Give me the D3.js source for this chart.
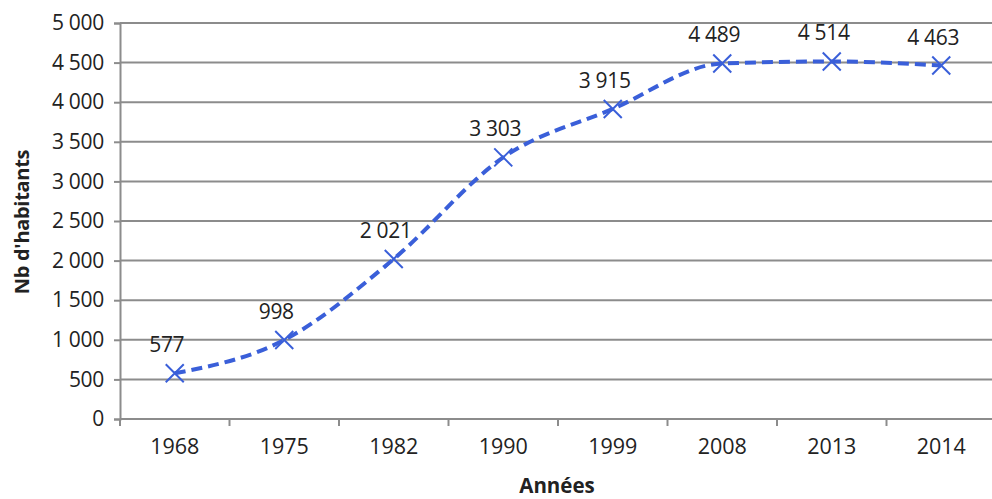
<!DOCTYPE html>
<html><head><meta charset="utf-8">
<script src="https://cdn.jsdelivr.net/npm/d3@7"></script>
<style>body{margin:0;background:#fff}svg{display:block}</style>
</head><body>
<svg id="c" width="992" height="499"></svg>
<script>
const years = ["1968","1975","1982","1990","1999","2008","2013","2014"];
const habitants = [577, 998, 2021, 3303, 3915, 4489, 4514, 4463];
const yTicks = [0,500,1000,1500,2000,2500,3000,3500,4000,4500,5000];
const xTitle = "Années";
const yTitle = "Nb d'habitants";

const svg = d3.select("#c");
const W = 992, H = 499;
const m = {left:120, right:-4, top:23, bottom:80};
const x = d3.scaleBand().domain(years).range([m.left, W - m.right]);
const y = d3.scaleLinear().domain([0,5000]).range([H - m.bottom, m.top]);
const font = "'Open Sans', sans-serif";
const fmt = v => d3.format(",")(v).replace(/,/g, " ");
const grid = "#8c8c8c";
const blue = "#3a5fd9";
const fs = 21;

// gridlines
svg.append("g").selectAll("line").data(yTicks.filter(d=>d>0)).join("line")
  .attr("x1", m.left).attr("x2", W).attr("y1", d=>y(d)).attr("y2", d=>y(d))
  .attr("stroke", grid).attr("stroke-width", 2);

// y axis
const ya = svg.append("g").attr("transform", `translate(${m.left},0)`)
  .call(d3.axisLeft(y).tickValues(yTicks).tickSize(6).tickPadding(10).tickFormat(fmt));
ya.select(".domain").attr("stroke", grid).attr("stroke-width", 2);
ya.selectAll(".tick line").attr("stroke", grid).attr("stroke-width", 2);
ya.selectAll("text").attr("font-family", font).attr("font-size", fs).attr("fill", "#222")
  .style("letter-spacing", "-0.3px");

// x axis
const xa = svg.append("g").attr("transform", `translate(0,${y(0)})`)
  .call(d3.axisBottom(x).tickSize(0).tickPadding(20));
xa.select(".domain").attr("stroke", grid).attr("stroke-width", 2).attr("d", `M${m.left},0H${W}`);
xa.selectAll("text").attr("font-family", font).attr("font-size", fs + 0.5).attr("fill", "#222");
// category boundary ticks
svg.append("g").selectAll("line").data(years).join("line")
  .attr("x1", d=>x(d)).attr("x2", d=>x(d))
  .attr("y1", y(0)).attr("y2", y(0)+7).attr("stroke", grid).attr("stroke-width", 2);

// titles
svg.append("text").attr("x", 557).attr("y", 493).attr("text-anchor","middle")
  .attr("font-family", font).attr("font-weight","bold").attr("font-size", 20.5).attr("fill","#222")
  .text(xTitle);
svg.append("text").attr("transform", `translate(29,${(y(0)+y(5000))/2 + 1}) rotate(-90)`)
  .attr("text-anchor","middle").attr("font-family", font).attr("font-weight","bold")
  .attr("font-size", 20).attr("fill","#222").style("letter-spacing", "-0.3px").text(yTitle);

const cx = d => x(d) + x.bandwidth()/2;
const pts = years.map((d,i)=>[cx(d), y(habitants[i])]);

// line
svg.append("path").attr("d", d3.line().curve(d3.curveMonotoneX)(pts))
  .attr("fill","none").attr("stroke", blue).attr("stroke-width", 4)
  .attr("stroke-dasharray", "11,6");

// markers
const s = 9;
svg.append("g").selectAll("path").data(pts).join("path")
  .attr("d", p => `M${p[0]-s},${p[1]-s}L${p[0]+s},${p[1]+s}M${p[0]-s},${p[1]+s}L${p[0]+s},${p[1]-s}`)
  .attr("stroke", blue).attr("stroke-width", 2).attr("fill","none");

// data labels
svg.append("g").selectAll("text").data(years).join("text")
  .attr("x", (d)=>cx(d) - 8).attr("y", (d,i)=>y(habitants[i]) - 21)
  .attr("text-anchor","middle").attr("font-family", font).attr("font-size", fs).attr("fill","#222")
  .style("letter-spacing", "-0.3px")
  .text((d,i)=>fmt(habitants[i]));
</script>
</body></html>
